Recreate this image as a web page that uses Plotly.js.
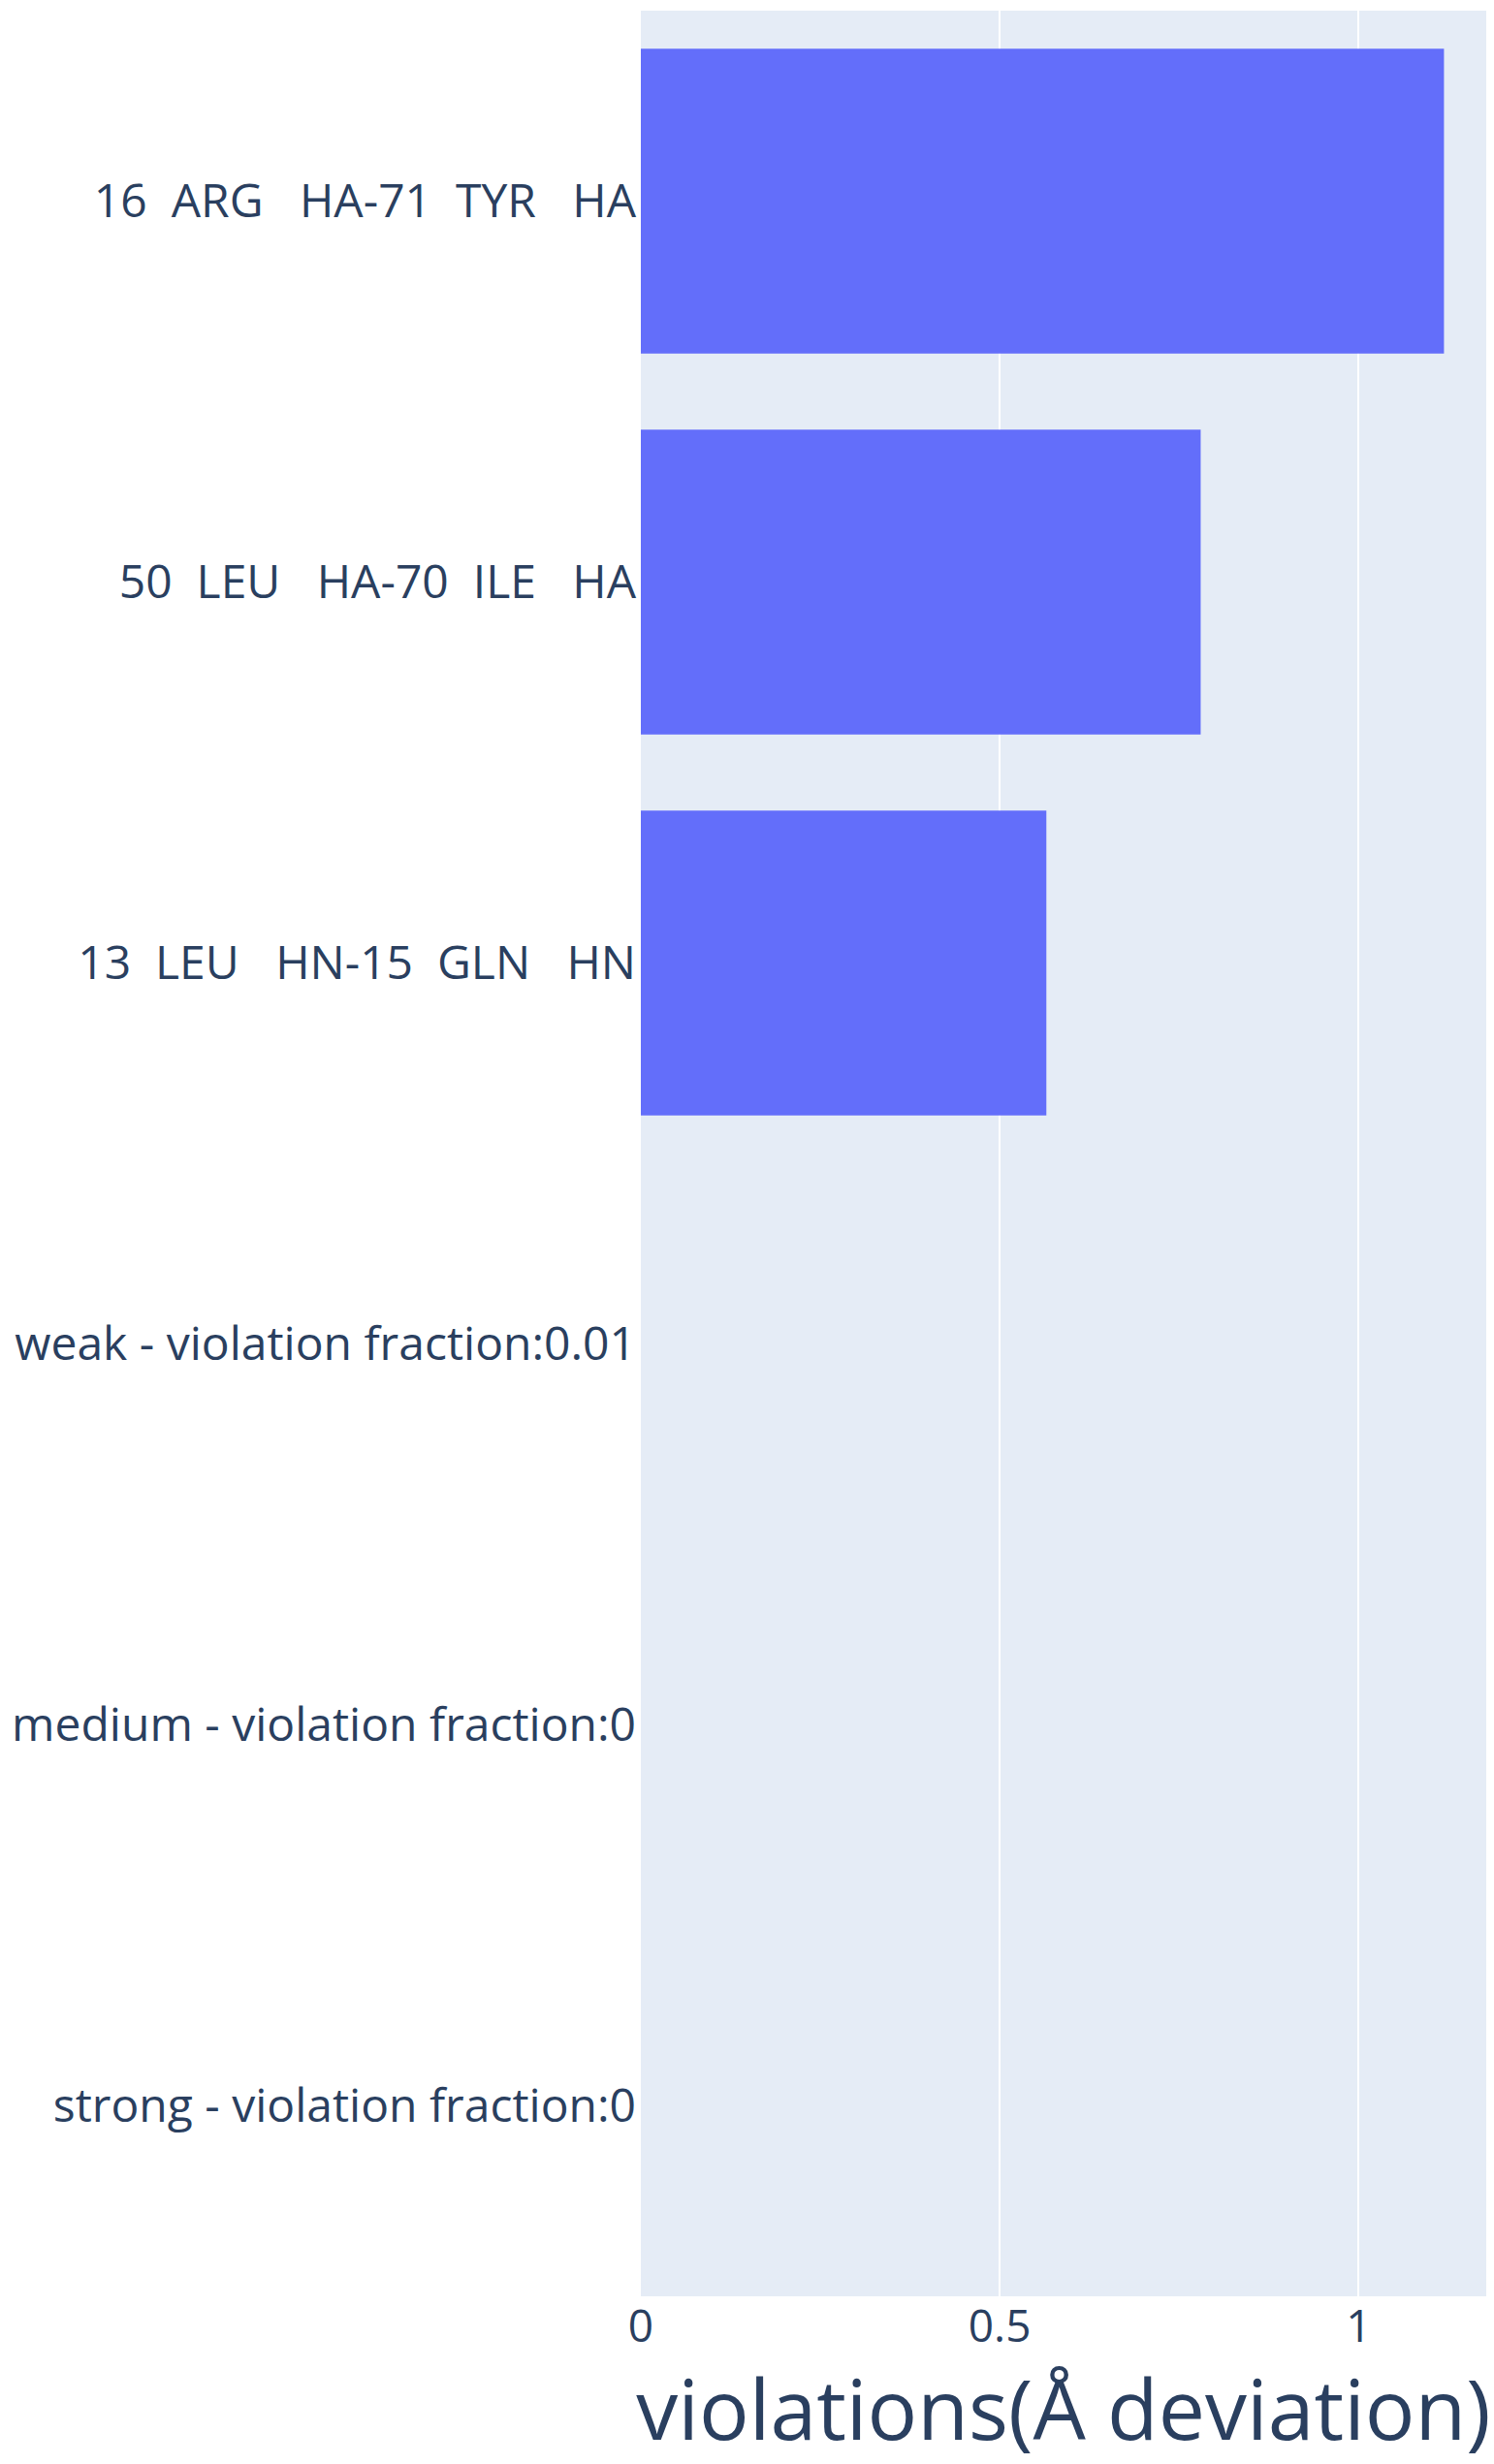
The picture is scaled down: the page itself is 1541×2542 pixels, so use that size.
<!DOCTYPE html>
<html>
<head>
<meta charset="utf-8">
<script src="https://cdn.plot.ly/plotly-3.0.1.min.js"></script>
<style>html,body{margin:0;padding:0;background:#fff;}</style>
</head>
<body>
<div id="chart" style="width:1541px;height:2542px;"></div>
<script>
const categories = [
  "strong - violation fraction:0",
  "medium - violation fraction:0",
  "weak - violation fraction:0.01",
  "13  LEU   HN-15  GLN   HN",
  "50  LEU   HA-70  ILE   HA",
  "16  ARG   HA-71  TYR   HA"
];
const violations = [0, 0, 0, 0.565, 0.78, 1.119];
const xTitle = "violations(Å deviation)";

const data = [{
  type: "bar",
  orientation: "h",
  x: violations,
  y: categories,
  marker: {color: "#636efa"}
}];

const layout = {
  width: 1541,
  height: 2542,
  margin: {l: 661, r: 8, t: 11, b: 173, pad: 0},
  paper_bgcolor: "#ffffff",
  plot_bgcolor: "#E5ECF6",
  font: {family: '"Open Sans", verdana, arial, sans-serif', color: "#2a3f5f", size: 48},
  showlegend: false,
  bargap: 0.2,
  xaxis: {
    title: {text: xTitle, font: {size: 86}, standoff: 45},
    gridcolor: "white",
    gridwidth: 2,
    zeroline: false,
    dtick: 0.5,
    tick0: 0,
    tickfont: {size: 46},
    automargin: false
  },
  yaxis: {
    type: "category",
    gridcolor: "white",
    showgrid: false,
    tickfont: {size: 48},
    ticklabelstandoff: 4,
    automargin: false
  }
};

Plotly.newPlot("chart", data, layout, {displayModeBar: false});
</script>
</body>
</html>
